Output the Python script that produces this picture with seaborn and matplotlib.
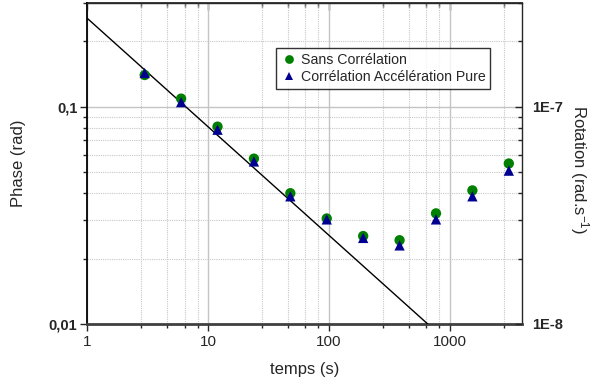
import matplotlib

matplotlib.use("Agg")
import matplotlib.pyplot as plt
import numpy as np
import pandas as pd
import seaborn as sns
from matplotlib.ticker import FixedLocator, LogLocator, NullFormatter, FixedFormatter

# Data
temps = [3, 6, 12, 24, 48, 96, 192, 384, 768, 1536, 3072]
phase_sans = [0.140, 0.109, 0.081, 0.0577, 0.0400, 0.0306, 0.0254, 0.0243, 0.0323, 0.0412, 0.0548]
phase_acc = [0.143, 0.105, 0.0784, 0.0560, 0.0387, 0.0303, 0.0249, 0.0230, 0.0303, 0.0387, 0.0508]
fit_t = [1, 656]
fit_phase = [0.256, 0.01]

series_names = ["Sans Corrélation", "Corrélation Accélération Pure"]
x_ticks = [1, 10, 100, 1000]
x_tick_labels = ["1", "10", "100", "1000"]
y_ticks = [0.01, 0.1]
y_tick_labels = ["0,01", "0,1"]
rot_ticks = [1e-8, 1e-7]
rot_tick_labels = ["1E-8", "1E-7"]

df = pd.DataFrame({
    "temps": temps * 2,
    "phase": phase_sans + phase_acc,
    "serie": [series_names[0]] * len(temps) + [series_names[1]] * len(temps),
})

sns.set_theme(style="ticks")
plt.rcParams["font.family"] = ["Liberation Sans", "DejaVu Sans"]
plt.rcParams["mathtext.fontset"] = "custom"
plt.rcParams["mathtext.rm"] = "Liberation Sans"
plt.rcParams["mathtext.it"] = "Liberation Sans:italic"

fig = plt.figure(figsize=(5.93, 3.88), dpi=100)
ax = fig.add_axes([0.1467, 0.165, 0.7336, 0.827])
ax.set_xscale("log")
ax.set_yscale("log")
ax.set_xlim(1, 3950)
ax.set_ylim(0.01, 0.3)

# grid
ax.xaxis.set_major_locator(FixedLocator(x_ticks))
ax.xaxis.set_minor_locator(LogLocator(base=10, subs=[2.8, 4.6, 6.4, 8.2]))
ax.xaxis.set_major_formatter(FixedFormatter(x_tick_labels))
ax.xaxis.set_minor_formatter(NullFormatter())
ax.yaxis.set_major_locator(FixedLocator(y_ticks))
ax.yaxis.set_minor_locator(LogLocator(base=10, subs=np.arange(2, 10)))
ax.yaxis.set_major_formatter(FixedFormatter(y_tick_labels))
ax.yaxis.set_minor_formatter(NullFormatter())
ax.grid(which="major", color="#c4c4c4", linestyle="-", linewidth=1.0)
ax.grid(which="minor", color="#c8c8c8", linestyle=(0, (1, 1)), linewidth=0.8)
ax.set_axisbelow(True)

sns.lineplot(x=fit_t, y=fit_phase, ax=ax, color="black", linewidth=1.0, sort=False, zorder=3)
sns.scatterplot(
    data=df, x="temps", y="phase", hue="serie", style="serie",
    palette={series_names[0]: "#008000", series_names[1]: "#000090"},
    markers={series_names[0]: "o", series_names[1]: "^"},
    s=55, linewidth=0, ax=ax, zorder=4,
)

leg = ax.legend(
    loc="upper left", bbox_to_anchor=(0.418, 0.882), frameon=True, fancybox=False,
    edgecolor="black", fontsize=10.2, handletextpad=0.2, borderpad=0.35,
    labelspacing=0.2, handlelength=1.2, markerscale=0.85, title=None,
)
leg.get_frame().set_linewidth(1.0)

ax.tick_params(axis="x", which="major", direction="out", length=5, width=1, labelsize=11, pad=3)
ax.tick_params(axis="x", which="minor", direction="out", length=3, width=1)
ax.tick_params(axis="y", which="major", direction="out", length=5, width=1, labelsize=10.5, pad=2)
ax.tick_params(axis="y", which="minor", direction="out", length=3, width=1)
for lbl in ax.get_yticklabels():
    lbl.set_fontweight("bold")

ax.spines["bottom"].set_color("#404040")
ax.spines["bottom"].set_linewidth(2.0)
ax.spines["left"].set_color("black")
ax.spines["left"].set_linewidth(1.3)
ax.spines["top"].set_linewidth(1.0)
ax.spines["right"].set_linewidth(1.0)
ax.spines["top"].set_visible(True)
ax.spines["right"].set_visible(True)

# top axis: inward ticks, no labels
top = ax.secondary_xaxis("top")
top.xaxis.set_major_locator(FixedLocator(x_ticks))
top.xaxis.set_minor_locator(LogLocator(base=10, subs=[2.8, 4.6, 6.4, 8.2]))
top.xaxis.set_major_formatter(NullFormatter())
top.xaxis.set_minor_formatter(NullFormatter())
top.tick_params(which="major", direction="in", length=5, width=1)
top.tick_params(which="minor", direction="in", length=3, width=1)

# right axis: rotation
ax2 = ax.twinx()
ax2.set_yscale("log")
ax2.set_ylim(1e-8, 3e-7)
ax2.yaxis.set_major_locator(FixedLocator(rot_ticks))
ax2.yaxis.set_minor_locator(LogLocator(base=10, subs=np.arange(2, 10)))
ax2.yaxis.set_major_formatter(FixedFormatter(rot_tick_labels))
ax2.yaxis.set_minor_formatter(NullFormatter())
ax2.tick_params(which="major", direction="in", length=5, width=1, labelsize=10.5, pad=7)
ax2.tick_params(which="minor", direction="in", length=3, width=1)
for lbl in ax2.get_yticklabels():
    lbl.set_fontweight("bold")
ax2.grid(False)
for s in ax2.spines.values():
    s.set_visible(False)

ax.set_xlabel("temps (s)", fontsize=12, labelpad=9)
ax.set_ylabel("Phase (rad)", fontsize=12, labelpad=16)
ax2.set_ylabel("Rotation (rad.s$^{-1}$)", fontsize=12, rotation=270, va="center")
ax2.yaxis.set_label_coords(1.133, 0.48)

fig.savefig("out.png", dpi=100)
